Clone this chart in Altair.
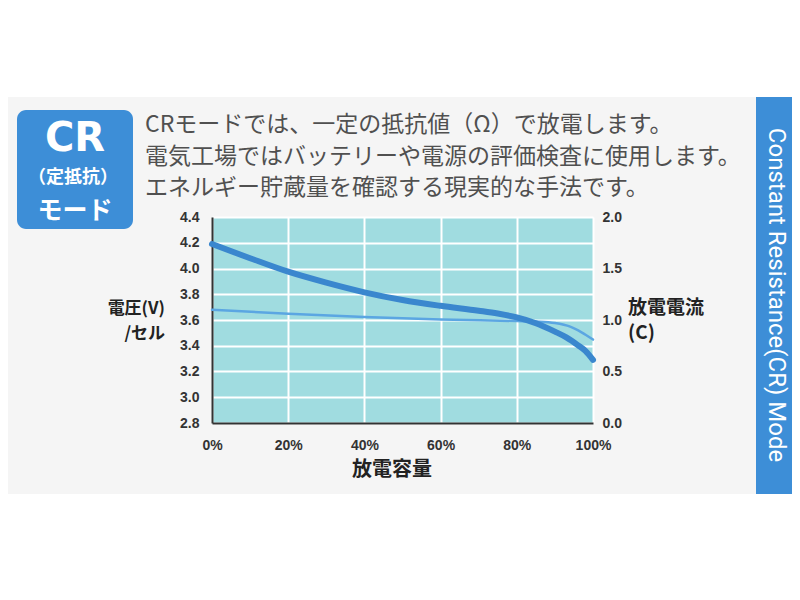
import altair as alt
import pandas as pd

# ---- data ----
capacity_v = [0, 10, 20, 30, 40, 50, 60, 70, 75, 80, 85, 90, 93, 96, 98, 100]
voltage = [4.19, 4.08, 3.975, 3.89, 3.815, 3.755, 3.71, 3.672, 3.65, 3.62, 3.575, 3.51, 3.465, 3.405, 3.36, 3.29]
capacity_c = [0, 20, 40, 60, 80, 85, 90, 94, 97, 100]
current = [1.10, 1.06, 1.03, 1.005, 0.99, 0.985, 0.97, 0.935, 0.88, 0.81]
x_ticks = [0, 20, 40, 60, 80, 100]
v_ticks = [2.8, 3.0, 3.2, 3.4, 3.6, 3.8, 4.0, 4.2, 4.4]
c_ticks = [0.0, 0.5, 1.0, 1.5, 2.0]
title_lines = [
    "CRモードでは、一定の抵抗値（Ω）で放電します。",
    "電気工場ではバッテリーや電源の評価検査に使用します。",
    "エネルギー貯蔵量を確認する現実的な手法です。",
]
badge_lines = ["CR", "（定抵抗）", "モード"]
left_title = ["電圧(V)", "/セル"]
right_title = ["放電電流", "(C)"]
x_title = "放電容量"
side_text = "Constant Resistance(CR) Mode"

JP = "Noto Sans CJK JP"
NUM = "Liberation Sans"
BLUE = "#3D8ED7"
GRAY = "#F5F5F5"
CYAN = "#A0DCE0"

one = alt.Data(values=[{}])


def rect(x, x2, y, y2, color, radius=0):
    m = alt.Chart(one).mark_rect(color=color, cornerRadius=radius)
    return m.encode(x=alt.value(x), x2=alt.value(x2), y=alt.value(y), y2=alt.value(y2))


def text(t, x, y, size, color, font=JP, weight="normal", align="left", angle=0):
    return alt.Chart(one).mark_text(
        text=t, font=font, fontSize=size, fontWeight=weight, color=color,
        align=align, baseline="middle", angle=angle,
    ).encode(x=alt.value(x), y=alt.value(y))


# decorations (pixel offsets relative to the plot area's top-left corner)
deco = [
    rect(-220, 600, -230, -120, "white"),
    rect(-220, 600, 277, 400, "white"),
    rect(544, 600, -120, 277, BLUE),
    rect(-195, -79, -107, 12, BLUE, 9),
    text(badge_lines[0], -137, -78, 40, "white", font="DejaVu Sans", weight="bold", align="center"),
    text(badge_lines[1], -139, -39, 18, "white", weight="bold", align="center"),
    text(badge_lines[2], -137, -6, 25, "white", weight="bold", align="center"),
    text(title_lines[0], -67, -92, 23, "#505050"),
    text(title_lines[1], -67, -60, 23, "#505050"),
    text(title_lines[2], -67, -29, 23, "#505050"),
    text(side_text, 564, 78, 24, "white", font="Roboto", align="center", angle=90),
    text(left_title[0], -47, 92, 17, "#222", weight="bold", align="right"),
    text(left_title[1], -47, 117, 17, "#222", weight="bold", align="right"),
    text(right_title[0], 416, 91, 19, "#222", weight="bold"),
    text(right_title[1], 416, 116, 19, "#222", weight="bold"),
    text(x_title, 180, 253, 20, "#222", weight="bold", align="center"),
]

x_enc = alt.X(
    "cap:Q",
    scale=alt.Scale(domain=[0, 100], nice=False),
    axis=alt.Axis(
        values=x_ticks, labelExpr="datum.value + '%'", title=None,
        grid=True, gridColor="white", gridWidth=2,
        domainColor="#333", domainWidth=2, ticks=False, tickSize=0,
        labelFlush=False, labelOverlap=False,
        labelPadding=15, labelFont=NUM, labelFontSize=14, labelFontWeight="bold",
        labelColor="#333",
    ),
)

vdf = pd.DataFrame({"cap": capacity_v, "v": voltage})
cdf = pd.DataFrame({"cap": capacity_c, "c": current})

v_line = alt.Chart(vdf).mark_line(
    color="#3A87CE", strokeWidth=6, strokeCap="round", interpolate="monotone"
).encode(
    x=x_enc,
    y=alt.Y(
        "v:Q",
        scale=alt.Scale(domain=[2.8, 4.4], nice=False, zero=False),
        axis=alt.Axis(
            values=v_ticks, format=".1f", title=None, orient="left",
            grid=True, gridColor="white", gridWidth=2,
            domainColor="#333", domainWidth=2, ticks=False, tickSize=0,
            labelFlush=False, labelOverlap=False,
            labelPadding=13, labelFont=NUM, labelFontSize=14, labelFontWeight="bold",
            labelColor="#333",
        ),
    ),
)

c_line = alt.Chart(cdf).mark_line(
    color="#5BA6E2", strokeWidth=2.5, strokeCap="round", interpolate="monotone"
).encode(
    x=x_enc,
    y=alt.Y(
        "c:Q",
        scale=alt.Scale(domain=[0, 2.0], nice=False, zero=False),
        axis=alt.Axis(
            values=c_ticks, format=".1f", title=None, orient="right",
            grid=False, domain=False, ticks=False, tickSize=0,
            labelFlush=False, labelOverlap=False,
            labelPadding=9, labelFont=NUM, labelFontSize=14, labelFontWeight="bold",
            labelColor="#333",
        ),
    ),
)

chart = alt.layer(*deco, c_line, v_line).resolve_scale(y="independent").properties(
    width=381,
    height=206,
    autosize=alt.AutoSizeParams(type="none"),
    padding={"left": 204, "top": 209, "right": 199, "bottom": 169},
    background=GRAY,
).configure_view(fill=CYAN, stroke=None)

chart.save("out.html", embed_options={"renderer": "svg", "actions": False})
